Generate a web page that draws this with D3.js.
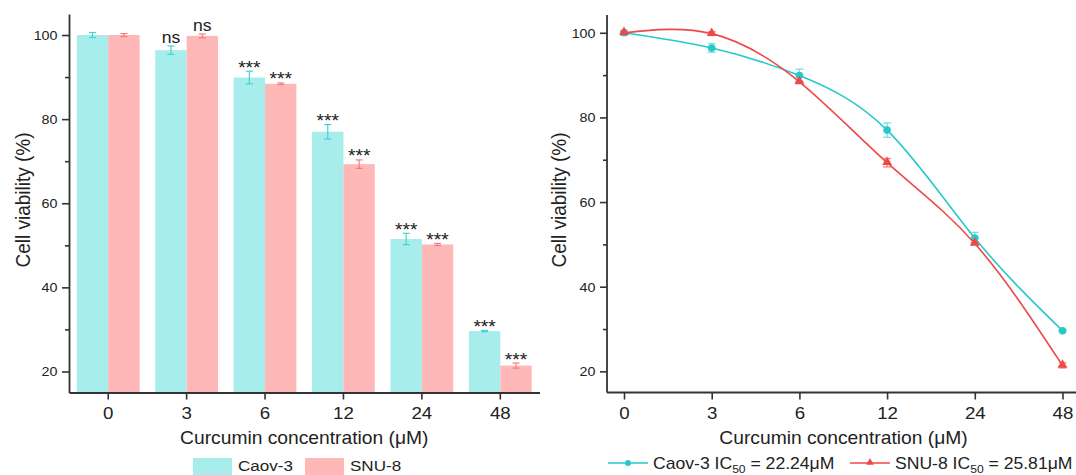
<!DOCTYPE html>
<html>
<head>
<meta charset="utf-8">
<script src="https://cdn.jsdelivr.net/npm/d3@7"></script>
<style>
  html, body { margin: 0; padding: 0; background: #fff; }
  svg { display: block; }
  text { font-family: "Liberation Sans", Arial, Helvetica, sans-serif; fill: #222; }
</style>
</head>
<body>
<svg id="chart" width="1076" height="475"></svg>
<script>
// ---------- data ----------
const concentrations = ["0", "3", "6", "12", "24", "48"];
const caov3 = [100, 96.4, 89.9, 77.0, 51.5, 29.6];
const caov3Err = [0.6, 1.0, 1.5, 1.7, 1.35, 0.15];
const snu8 = [100, 99.8, 88.4, 69.3, 50.2, 21.4];
const snu8Err = [0.35, 0.45, 0.2, 1.0, 0.25, 0.6];
const caov3Sig = ["", "ns", "***", "***", "***", "***"];
const snu8Sig = ["", "ns", "***", "***", "***", "***"];
const yMajorTicks = [20, 40, 60, 80, 100];
const yMinorTicks = [30, 50, 70, 90];
const seriesNames = ["Caov-3", "SNU-8"];
const ic50 = ["22.24", "25.81"];

// ---------- style ----------
const SX = 1.1;               // horizontal stretch of text
const axisColor = "#333";
const barCyan = "#A6EDEB", barPink = "#FFB8B8";
const errCyan = "#45D2D2", errPink = "#F07E7E";
const lineCyan = "#26C9C9", lineRed = "#EF4848";

const svg = d3.select("#chart");

function txt(g, x, y, str, size, anchor) {
  return g.append("text")
    .attr("transform", `translate(${x},${y}) scale(${SX},1)`)
    .attr("text-anchor", anchor || "start")
    .style("font-size", size + "px")
    .text(str);
}

function styleAxis(g) {
  g.selectAll("path.domain").attr("stroke", axisColor).attr("stroke-width", 1.8);
  g.selectAll(".tick line").attr("stroke", axisColor).attr("stroke-width", 1.6);
}

// ================= LEFT: grouped bar chart =================
const L = { x0: 69, x1: 539.5, yb: 392.5, yt: 14 };
const xb = d3.scaleBand().domain(concentrations).range([L.x0, L.x1]).padding(0);
const yL = d3.scaleLinear().domain([15, 105]).range([L.yb, L.yt]);
const groupW = xb.bandwidth() * 0.8;
const barW = groupW / 2;

const left = svg.append("g");

const barData = [];
concentrations.forEach((c, i) => {
  barData.push({ c, s: 0, v: caov3[i], e: caov3Err[i], sig: caov3Sig[i] });
  barData.push({ c, s: 1, v: snu8[i], e: snu8Err[i], sig: snu8Sig[i] });
});
const barX = d => xb(d.c) + xb.bandwidth() / 2 - groupW / 2 + d.s * barW;

left.selectAll("rect.bar").data(barData).join("rect")
  .attr("class", "bar")
  .attr("x", barX)
  .attr("width", barW)
  .attr("y", d => yL(d.v))
  .attr("height", d => L.yb - yL(d.v))
  .attr("fill", d => d.s === 0 ? barCyan : barPink);

// error bars
const eb = left.selectAll("g.err").data(barData).join("g").attr("class", "err")
  .attr("stroke", d => d.s === 0 ? errCyan : errPink).attr("stroke-width", 1.2);
eb.append("line")
  .attr("x1", d => barX(d) + barW / 2).attr("x2", d => barX(d) + barW / 2)
  .attr("y1", d => yL(d.v + d.e)).attr("y2", d => yL(d.v - d.e));
eb.append("line")
  .attr("x1", d => barX(d) + barW / 2 - 3.5).attr("x2", d => barX(d) + barW / 2 + 3.5)
  .attr("y1", d => yL(d.v + d.e)).attr("y2", d => yL(d.v + d.e));
eb.append("line")
  .attr("x1", d => barX(d) + barW / 2 - 3.5).attr("x2", d => barX(d) + barW / 2 + 3.5)
  .attr("y1", d => yL(d.v - d.e)).attr("y2", d => yL(d.v - d.e));

// significance labels
barData.filter(d => d.sig).forEach(d => {
  const top = yL(d.v + d.e);
  const isNs = d.sig === "ns";
  txt(left, barX(d) + barW / 2, isNs ? top - 3 : top + 2.5, d.sig, isNs ? 16 : 17.5, "middle");
});

// axes
const yAxL = left.append("g").attr("transform", `translate(${L.x0},0)`)
  .call(d3.axisLeft(yL).tickValues(yMajorTicks).tickSize(7).tickSizeOuter(0).tickPadding(0));
yAxL.selectAll(".tick text").attr("x", -11.5 / SX).attr("dy", "0.34em")
  .attr("transform", `scale(${SX},1)`).style("font-size", "13px").attr("fill", "#222");
styleAxis(yAxL);
const yAxLm = left.append("g").attr("transform", `translate(${L.x0},0)`)
  .call(d3.axisLeft(yL).tickValues(yMinorTicks).tickSize(4).tickSizeOuter(0).tickFormat(""));
yAxLm.select("path.domain").remove();
styleAxis(yAxLm);

const xAxL = left.append("g").attr("transform", `translate(0,${L.yb})`)
  .call(d3.axisBottom(xb).tickSize(7).tickSizeOuter(0));
xAxL.selectAll(".tick text").attr("y", 27).attr("dy", 0).attr("x", 0)
  .attr("transform", `scale(${SX},1)`).style("font-size", "17px").attr("fill", "#222");
styleAxis(xAxL);

txt(left, (L.x0 + L.x1) / 2, 443.5, "Curcumin concentration (μM)", 17.5, "middle");
left.append("text")
  .attr("transform", `translate(30,200) scale(${SX},1) rotate(-90)`)
  .attr("text-anchor", "middle").style("font-size", "19px").text("Cell viability (%)");

// legend (left)
const legL = [{ x: 193, c: barCyan, t: seriesNames[0] }, { x: 305, c: barPink, t: seriesNames[1] }];
legL.forEach(d => {
  left.append("rect").attr("x", d.x).attr("y", 458).attr("width", 39).attr("height", 17).attr("fill", d.c);
  txt(left, d.x + 45, 471, d.t, 15.5, "start");
});

// ================= RIGHT: line chart =================
const R = { x0: 607, x1: 1076, yb: 392.5, yt: 15 };
const xp = d3.scalePoint().domain(concentrations).range([624, 1062.5]);
const yR = d3.scaleLinear().domain([15, 104.2]).range([R.yb, R.yt]);

const right = svg.append("g");

const seriesR = [
  { name: seriesNames[0], vals: caov3, errs: caov3Err, color: lineCyan, errColor: "#6FDDDD", marker: "circle" },
  { name: seriesNames[1], vals: snu8, errs: snu8Err, color: lineRed, errColor: "#F27A7A", marker: "triangle" }
];

const lineGen = d3.line().x(d => xp(d.c)).y(d => yR(d.v)).curve(d3.curveNatural);

seriesR.forEach(s => {
  const pts = concentrations.map((c, i) => ({ c, v: s.vals[i], e: s.errs[i] }));
  right.append("path").datum(pts).attr("d", lineGen)
    .attr("fill", "none").attr("stroke", s.color).attr("stroke-width", 1.6);
  // error bars
  const g = right.append("g").attr("stroke", s.errColor).attr("stroke-width", 1.2);
  pts.forEach(p => {
    const x = xp(p.c);
    g.append("line").attr("x1", x).attr("x2", x).attr("y1", yR(p.v + p.e)).attr("y2", yR(p.v - p.e));
    g.append("line").attr("x1", x - 4).attr("x2", x + 4).attr("y1", yR(p.v + p.e)).attr("y2", yR(p.v + p.e));
    g.append("line").attr("x1", x - 4).attr("x2", x + 4).attr("y1", yR(p.v - p.e)).attr("y2", yR(p.v - p.e));
  });
  // markers
  if (s.marker === "circle") {
    right.selectAll(null).data(pts).join("circle")
      .attr("cx", p => xp(p.c)).attr("cy", p => yR(p.v)).attr("r", 3.8).attr("fill", s.color);
  } else {
    right.selectAll(null).data(pts).join("path")
      .attr("transform", p => `translate(${xp(p.c)},${yR(p.v) - 0.5})`)
      .attr("d", d3.symbol(d3.symbolTriangle, 42)).attr("fill", s.color);
  }
});

// axes (right)
const yAxR = right.append("g").attr("transform", `translate(${R.x0},0)`)
  .call(d3.axisLeft(yR).tickValues(yMajorTicks).tickSize(7).tickSizeOuter(0).tickPadding(0));
yAxR.select("path.domain").remove();
yAxR.selectAll(".tick text").attr("x", -11.5 / SX).attr("dy", "0.34em")
  .attr("transform", `scale(${SX},1)`).style("font-size", "13px").attr("fill", "#222");
styleAxis(yAxR);
const yAxRm = right.append("g").attr("transform", `translate(${R.x0},0)`)
  .call(d3.axisLeft(yR).tickValues(yMinorTicks).tickSize(4).tickSizeOuter(0).tickFormat(""));
yAxRm.select("path.domain").remove();
styleAxis(yAxRm);
right.append("line").attr("x1", R.x0).attr("x2", R.x0).attr("y1", R.yt).attr("y2", R.yb)
  .attr("stroke", axisColor).attr("stroke-width", 1.8);

const xAxR = right.append("g").attr("transform", `translate(0,${R.yb})`)
  .call(d3.axisBottom(xp).tickSize(7).tickSizeOuter(0));
xAxR.select("path.domain").remove();
xAxR.selectAll(".tick text").attr("y", 27).attr("dy", 0).attr("x", 0)
  .attr("transform", `scale(${SX},1)`).style("font-size", "17px").attr("fill", "#222");
styleAxis(xAxR);
right.append("line").attr("x1", R.x0).attr("x2", R.x1).attr("y1", R.yb).attr("y2", R.yb)
  .attr("stroke", axisColor).attr("stroke-width", 1.8);

txt(right, 843.5, 443.5, "Curcumin concentration (μM)", 17.5, "middle");
right.append("text")
  .attr("transform", `translate(566,200) scale(${SX},1) rotate(-90)`)
  .attr("text-anchor", "middle").style("font-size", "19px").text("Cell viability (%)");

// legend (right)
const legR = [{ x: 608, s: seriesR[0], ic: ic50[0] }, { x: 850, s: seriesR[1], ic: ic50[1] }];
legR.forEach(d => {
  right.append("line").attr("x1", d.x).attr("x2", d.x + 40).attr("y1", 463).attr("y2", 463)
    .attr("stroke", d.s.color).attr("stroke-width", 1.6);
  if (d.s.marker === "circle") {
    right.append("circle").attr("cx", d.x + 20).attr("cy", 463).attr("r", 3).attr("fill", d.s.color);
  } else {
    right.append("path").attr("transform", `translate(${d.x + 20},462.5)`)
      .attr("d", d3.symbol(d3.symbolTriangle, 26)).attr("fill", d.s.color);
  }
  const t = txt(right, d.x + 45, 469, null, 16, "start");
  t.append("tspan").text(d.s.name + " IC");
  t.append("tspan").attr("dy", 3.5).style("font-size", "11px").text("50");
  t.append("tspan").attr("dy", -3.5).text(" = " + d.ic + "μM");
});
</script>
</body>
</html>
